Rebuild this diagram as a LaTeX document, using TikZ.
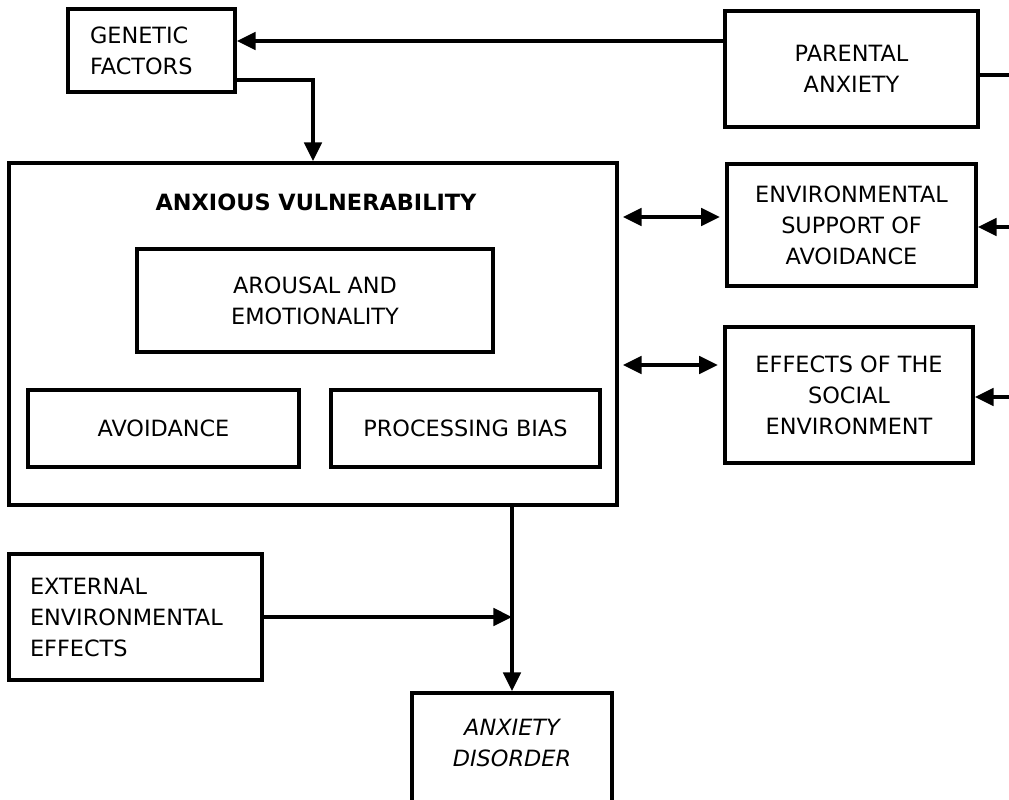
\documentclass[tikz,border=0pt]{standalone}
\usepackage{fontspec}
\setmainfont{DejaVu Sans}
\usepackage{tikz}
\usetikzlibrary{arrows.meta}

\begin{document}
\begin{tikzpicture}[x=0.75pt,y=-0.75pt,line width=2.8pt,>={Triangle[length=14pt,width=13pt]}]
\tikzstyle{box} = [rectangle, draw, line width=2.8pt, align=center, font=\fontsize{16.8}{23.25}\selectfont, inner sep=0pt]
\tikzstyle{leftbox} = [box, align=left, inner xsep=16pt]
\clip (0,0) rectangle (1009,799);
\node[leftbox, minimum width=167*0.75pt, minimum height=83*0.75pt, text width=(167-44)*0.75pt](genetic) at (151.5,50.5){GENETIC\\FACTORS};
\node[box, minimum width=253*0.75pt, minimum height=116*0.75pt](parental) at (851.5,69){PARENTAL\\ANXIETY};
\node[box, minimum width=608*0.75pt, minimum height=342*0.75pt](vuln) at (313,334){};
\node[font=\fontsize{16.8}{23.25}\selectfont\bfseries](title) at (316,202){ANXIOUS VULNERABILITY};
\node[box, minimum width=356*0.75pt, minimum height=103*0.75pt](arousal) at (315,300.5){AROUSAL AND\\EMOTIONALITY};
\node[box, minimum width=271*0.75pt, minimum height=77*0.75pt](avoid) at (163.5,428.5){AVOIDANCE};
\node[box, minimum width=269*0.75pt, minimum height=77*0.75pt](bias) at (465.5,428.5){PROCESSING BIAS};
\node[box, minimum width=249*0.75pt, minimum height=122*0.75pt](support) at (851.5,225){ENVIRONMENTAL\\SUPPORT OF\\AVOIDANCE};
\node[box, minimum width=248*0.75pt, minimum height=136*0.75pt](social) at (849,395){EFFECTS OF THE\\SOCIAL\\ENVIRONMENT};
\node[leftbox, minimum width=249*0.75pt, minimum height=126*0.75pt, text width=(249-38)*0.75pt](external) at (135.5,617){EXTERNAL\\ENVIRONMENTAL\\EFFECTS};
\node[box, minimum width=200*0.75pt, minimum height=130*0.75pt, font=\fontsize{16.8}{23.25}\selectfont\itshape](disorder) at (512,758){ANXIETY\\DISORDER\\ };
\coordinate (pa-out) at (1009,75);
\coordinate (su-in) at (1009,227);
\coordinate (so-in) at (1009,397);

\draw[->] (parental.west |- 0,41) -- (genetic.east |- 0,41);
\draw (parental.east |- pa-out) -- (pa-out);
\draw[->] (genetic.east |- 0,80) -| (vuln.north);
\draw[<->, shorten <=3pt, shorten >=4pt] (vuln.east |- 0,217) -- (support.west |- 0,217);
\draw[<->, shorten <=3pt, shorten >=4pt] (vuln.east |- 0,365) -- (social.west |- 0,365);
\draw[->] (su-in) -- (support.east |- su-in);
\draw[->] (so-in) -- (social.east |- so-in);
\draw[->] (vuln.south -| disorder.north) -- (disorder.north);
\draw[->] (external.east) -- (disorder.north |- external.east);
\end{tikzpicture}
\end{document}
